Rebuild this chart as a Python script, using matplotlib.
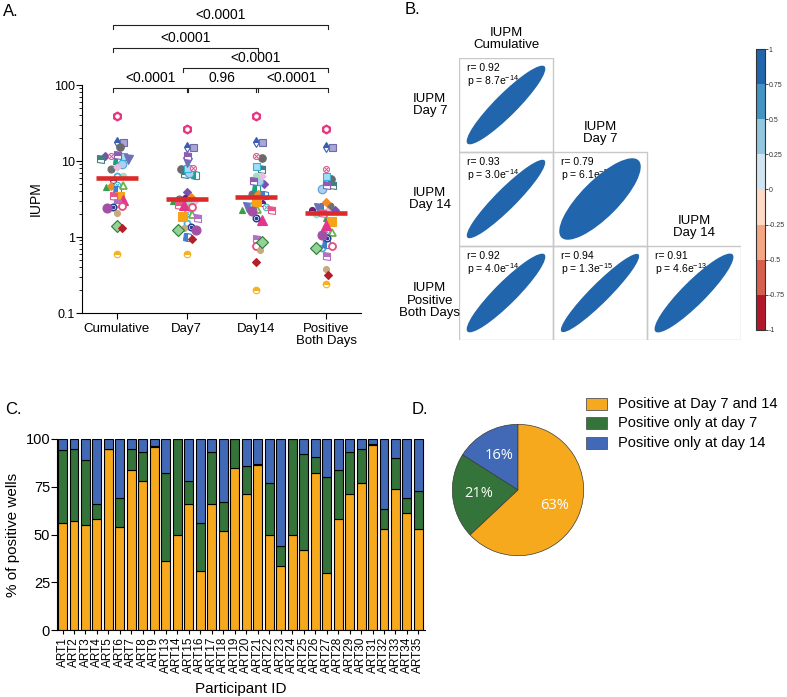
import numpy as np
import matplotlib
matplotlib.use('Agg')
import matplotlib.pyplot as plt
import matplotlib.colors as mcolors
from matplotlib.patches import Ellipse, Rectangle
import matplotlib.ticker as mticker

plt.rcParams['font.family'] = ['Liberation Sans', 'DejaVu Sans']
plt.rcParams['mathtext.fontset'] = 'custom'
plt.rcParams['mathtext.rm'] = 'Liberation Sans'
plt.rcParams['mathtext.it'] = 'Liberation Sans:italic'
plt.rcParams['axes.unicode_minus'] = True

# ---------------- DATA ----------------
# Panel A: IUPM per participant (same index = same participant/symbol)
groups_A = ['Cumulative', 'Day7', 'Day14', 'Positive\nBoth Days']
iupm_cum = [39.5, 17.9, 17.9, 15.4, 7.8, 11.6, 10.5, 10.0, 9.1, 11.7, 10.6, 11.6, 8.35, 6.4, 6.4, 5.6, 4.9,
            4.5, 4.7, 4.1, 4.8, 3.5, 3.5, 3.07, 12.0, 2.8, 2.56, 2.46, 2.38, 2.07, 1.41, 1.3, 0.6]
iupm_d7 = [26.1, 15.4, 15.4, 7.8, 3.2, 3.87, 6.7, 6.5, 7.0, 8.2, 9.8, 8.0, 3.0, 2.9, 1.54, 3.3, 2.07,
           3.0, 3.4, 1.0, 1.99, 1.87, 2.6, 2.63, 11.8, 1.79, 2.5, 1.37, 1.23, 1.33, 1.24, 0.94, 0.6]
iupm_d14 = [39.5, 17.9, 17.9, 11.0, 3.68, 5.0, 7.8, 4.37, 5.4, 8.6, 2.5, 11.6, 6.3, 6.4, 2.6, 2.83, 2.5,
            2.3, 3.7, 3.6, 2.35, 3.0, 2.26, 1.67, 5.5, 0.93, 0.77, 1.8, 2.17, 0.68, 0.87, 0.47, 0.2]
iupm_both = [26.1, 15.5, 15.5, 5.75, 2.55, 2.3, 4.8, 2.5, 4.27, 6.35, 2.4, 7.9, 2.2, 2.0, 0.72, 2.3, 1.2,
             1.76, 2.9, 0.8, 1.17, 1.62, 2.1, 1.44, 4.8, 0.56, 0.77, 0.96, 1.06, 0.375, 0.72, 0.32, 0.24]
medians_A = [5.9, 3.16, 3.33, 2.09]
comparisons = [(0, 1, '<0.0001'), (1, 2, '0.96'), (2, 3, '<0.0001'),
               (1, 3, '<0.0001'), (0, 2, '<0.0001'), (0, 3, '<0.0001')]

# Panel B: correlations (lower triangle)
row_labels_B = ['IUPM\nDay 7', 'IUPM\nDay 14', 'IUPM\nPositive\nBoth Days']
col_labels_B = ['IUPM\nCumulative', 'IUPM\nDay 7', 'IUPM\nDay 14']
r_vals = [[0.92], [0.93, 0.79], [0.92, 0.94, 0.91]]
p_mant = [['8.7'], ['3.0', '6.1'], ['4.0', '1.3', '4.6']]
p_exp = [['-14'], ['-14', '-5'], ['-14', '-15', '-13']]
cbar_ticks = [-1, -0.75, -0.5, -0.25, 0, 0.25, 0.5, 0.75, 1]

# Panel C: % of positive wells
participants = ['ART1', 'ART2', 'ART3', 'ART4', 'ART5', 'ART6', 'ART7', 'ART8', 'ART9', 'ART13', 'ART14',
                'ART15', 'ART16', 'ART17', 'ART18', 'ART19', 'ART20', 'ART21', 'ART22', 'ART23', 'ART24',
                'ART25', 'ART26', 'ART27', 'ART28', 'ART29', 'ART30', 'ART31', 'ART32', 'ART33', 'ART34', 'ART35']
pct_both = [56, 57, 55, 58, 95, 54, 84, 78, 96, 36, 50, 66, 31, 66, 52, 85, 71, 86.5, 50, 33.5, 50, 42, 82,
            30, 58, 71, 77, 97, 53, 74, 61.5, 53]
pct_d7only = [38, 38, 34, 8, 0, 15, 11, 15, 0.5, 46, 50, 12, 25, 27, 15, 15, 15, 0.5, 27, 10.5, 50, 50, 8.5,
              50, 26, 22, 18, 0.5, 10.5, 16, 7.5, 20]
pct_d14only = [6, 5, 11, 34, 5, 31, 5, 7, 3.5, 18, 0, 22, 44, 7, 33, 0, 14, 13, 23, 56, 0, 8, 9.5, 20, 16,
               7, 5, 2.5, 36.5, 10, 31, 27]

# Panel D: pie
pie_labels = ['Positive at Day 7 and 14', 'Positive only at day 7', 'Positive only at day 14']
pie_vals = [63, 21, 16]

# ---------------- STYLES ----------------
W, H = 787, 697
ORANGE, GREEN, BLUE = '#F7A91E', '#34733A', '#4169B5'
cat_colors = [ORANGE, GREEN, BLUE]

# marker, color, kind, size, edgecolor
styles = [
    ('h', '#e8337f', 'dotw', 9, None), ('d', '#3b5cb5', 'top', 6.5, None), ('s', '#a9a6d6', 'full', 7, '#6f6bab'),
    ('o', '#6a6a6a', 'full', 7.5, None), ('o', '#707070', 'full', 7, None), ('D', '#7a4fb2', 'full', 5.5, None),
    ('s', '#3f8080', 'top', 7, None), ('s', '#17a185', 'left', 7, None), ('o', '#a9d2f0', 'full', 8.5, '#5b9fd8'),
    ('s', '#a6dcf2', 'full', 7, '#35b0dc'), ('v', '#6c70b8', 'full', 9, None), ('o', '#d35a92', 'x', 6, None),
    ('D', '#e8bde0', 'full', 5, None), ('o', '#a8dcc0', 'full', 6.5, None), ('o', '#45b3dd', 'none', 6, None),
    ('o', '#6b1f70', 'top', 6, None), ('o', '#3fb5c9', 'x', 6.5, None), ('^', '#3a9e48', 'full', 6.5, None),
    ('D', '#f28a2a', 'full', 6, None), ('s', '#3f7fd0', 'left', 7, None), ('^', '#6fb24d', 'none', 7, None),
    ('s', '#f8a21a', 'full', 9, None), ('s', '#e95489', 'top', 7, None), ('^', '#e3358c', 'full', 10, None),
    ('s', '#8c5eb3', 'top', 7, None), ('s', '#b36fc2', 'top', 7, None), ('o', '#eb4b7c', 'none', 7, None),
    ('o', '#293d8f', 'dot', 6.5, None), ('o', '#a44fa6', 'full', 9, None), ('o', '#c9aa80', 'full', 6, None),
    ('D', '#93d194', 'full', 8, '#2c7a3a'), ('D', '#b51f2a', 'full', 5.5, None), ('o', '#f3b21f', 'top', 6.5, None),
]
MS_SCALE = 0.72


def R(l, t, r, b):
    return [l / W, 1 - b / H, (r - l) / W, (b - t) / H]


def swarm(vals, d=5.6, xpx=70.0, ypx=76.0):
    y = np.log10(np.asarray(vals)) * ypx
    xs = np.zeros(len(y))
    placed = []
    cand = [0.0] + [s * k for k in np.arange(0.5, 40, 0.5) for s in (1, -1)]
    for i in np.argsort(y)[::-1]:
        for c in cand:
            if all((c - px) ** 2 + (y[i] - py) ** 2 >= d * d for px, py in placed):
                break
        xs[i] = c
        placed.append((c, y[i]))
    return xs / xpx


def draw_pt(ax, x, y, st):
    m, c, kind, ms, ec = st
    ms = ms * MS_SCALE
    ec = ec or c
    kw = dict(marker=m, ms=ms, ls='none', mec=ec, mew=0.8, zorder=3)
    if kind == 'full':
        ax.plot([x], [y], mfc=c, **kw)
    elif kind in ('top', 'bottom', 'left', 'right'):
        ax.plot([x], [y], mfc=c, fillstyle=kind, markerfacecoloralt='white', **kw)
    elif kind == 'none':
        kw['mew'] = 1.3
        ax.plot([x], [y], mfc='white', **kw)
    elif kind == 'x':
        ax.plot([x], [y], mfc='white', **kw)
        ax.plot([x], [y], marker='x', ms=ms * 0.55, mew=0.7, color=c, ls='none', zorder=3)
    elif kind == 'dot':
        kw['mew'] = 1.1
        ax.plot([x], [y], mfc='white', **kw)
        ax.plot([x], [y], marker='o', ms=ms * 0.35, color=c, ls='none', zorder=3)
    elif kind == 'dotw':
        ax.plot([x], [y], mfc=c, **kw)
        ax.plot([x], [y], marker='o', ms=ms * 0.35, color='white', ls='none', zorder=3)


fig = plt.figure(figsize=(W / 100, H / 100), dpi=100)

# ---------------- PANEL A ----------------
axA = fig.add_axes(R(82, 85, 361, 313))
axA.set_yscale('log')
axA.set_ylim(0.1, 100)
axA.set_xlim(-0.5, 3.5)
for g, vals in enumerate([iupm_cum, iupm_d7, iupm_d14, iupm_both]):
    offs = swarm(vals)
    for i, v in enumerate(vals):
        draw_pt(axA, g + offs[i], v, styles[i])
    axA.hlines(medians_A[g], g - 0.3, g + 0.3, color='#da2a2a', lw=3.3, zorder=6)
axA.spines['top'].set_visible(False)
axA.spines['right'].set_visible(False)
axA.set_xticks(range(4))
axA.set_xticklabels(groups_A, fontsize=9.5, linespacing=1.0)
axA.set_yticks([0.1, 1, 10, 100])
axA.set_yticklabels(['0.1', '1', '10', '100'], fontsize=9)
axA.yaxis.set_minor_locator(mticker.LogLocator(subs=np.arange(2, 10)))
axA.yaxis.set_minor_formatter(mticker.NullFormatter())
axA.tick_params(axis='y', which='major', length=4, pad=1)
axA.tick_params(axis='y', which='minor', length=2)
axA.tick_params(axis='x', length=4, pad=3)
axA.set_ylabel('IUPM', fontsize=10, labelpad=8)
trA = axA.get_xaxis_transform()
level_px = {(0, 1): 88, (1, 2): 88, (2, 3): 88, (1, 3): 68, (0, 2): 48, (0, 3): 25}
tip = 4 / 228
for i, j, lab in comparisons:
    yv = (313 - level_px[(i, j)]) / 228
    x1, x2 = i - 0.05, j + 0.02
    if (i, j) in [(1, 2), (2, 3)]:
        x1 = i + 0.0
    axA.plot([x1, x1, x2, x2], [yv - tip, yv, yv, yv - tip], transform=trA, clip_on=False,
             color='#222222', lw=0.8)
    axA.text((x1 + x2) / 2, yv + 3 / 228, lab, transform=trA, ha='center', va='bottom', fontsize=10)
fig.text(3 / W, 1 - 12 / H, 'A.', fontsize=12, va='center')

# ---------------- PANEL B ----------------
axB = fig.add_axes(R(459, 58, 741, 340))
axB.set_xlim(0, 3)
axB.set_ylim(3, 0)
axB.axis('off')
ell_color = '#2166AC'
for i in range(3):
    for j in range(i + 1):
        r = r_vals[i][j]
        axB.add_patch(Rectangle((j, i), 1, 1, fill=False, ec='#c8c8c8', lw=1.0, zorder=1))
        w = 1.16
        h = w * np.sqrt((1 - r) / (1 + r))
        axB.add_patch(Ellipse((j + 0.5, i + 0.5), w, h, angle=-45, fc=ell_color, ec='none', zorder=3))
        axB.text(j + 0.085, i + 0.11, 'r= %.2f' % r, fontsize=7.5, va='center', ha='left', zorder=2)
        axB.text(j + 0.085, i + 0.25, 'p = %se$^{%s}$' % (p_mant[i][j], p_exp[i][j]), fontsize=7.5,
                 va='center', ha='left', zorder=2)
for i, lab in enumerate(row_labels_B):
    yoff = 0.08 if i == 2 else 0.0
    axB.text(-0.31, i + 0.5 + yoff, lab, ha='center', va='center', fontsize=9.5, linespacing=1.05,
             clip_on=False)
for j, lab in enumerate(col_labels_B):
    axB.text(j + 0.5, j - 0.07, lab, ha='center', va='bottom', fontsize=9.5, linespacing=1.05, clip_on=False)
fig.text(405 / W, 1 - 10 / H, 'B.', fontsize=12, va='center')

axCB = fig.add_axes(R(756, 49, 765, 330))
cb_colors = ['#b2182b', '#d6604d', '#f4a582', '#fddbc7', '#d1e5f0', '#92c5de', '#4393c3', '#2166ac']
cmap = mcolors.ListedColormap(cb_colors)
norm = mcolors.BoundaryNorm(np.linspace(-1, 1, 9), cmap.N)
cb = fig.colorbar(matplotlib.cm.ScalarMappable(norm=norm, cmap=cmap), cax=axCB, ticks=cbar_ticks)
cb.ax.set_yticklabels(['%g' % t for t in cbar_ticks])
cb.ax.tick_params(labelsize=5, length=2, width=0.6, colors='#333333', pad=0.5)
cb.outline.set_linewidth(0.8)
cb.outline.set_edgecolor('#333333')

# ---------------- PANEL C ----------------
axC = fig.add_axes(R(57, 439, 425, 630))
x = np.arange(len(participants))
b1 = np.array(pct_both)
b2 = np.array(pct_d7only)
b3 = np.array(pct_d14only)
bw = 0.78
axC.bar(x, b1, bw, color=ORANGE, edgecolor='black', lw=0.8)
axC.bar(x, b2, bw, bottom=b1, color=GREEN, edgecolor='black', lw=0.8)
axC.bar(x, b3, bw, bottom=b1 + b2, color=BLUE, edgecolor='black', lw=0.8)
axC.set_xlim(-0.48, 31.57)
axC.set_ylim(0, 100)
axC.spines['top'].set_visible(False)
axC.spines['right'].set_visible(False)
axC.set_yticks([0, 25, 50, 75, 100])
axC.tick_params(axis='y', labelsize=10.5, length=4, pad=1)
axC.set_xticks(x)
axC.set_xticklabels(participants, rotation=90, fontsize=8.5)
axC.tick_params(axis='x', length=3, pad=2)
axC.set_ylabel('% of positive wells', fontsize=11, labelpad=4)
axC.set_xlabel('Participant ID', fontsize=11, labelpad=6)
fig.text(5 / W, 1 - 410 / H, 'C.', fontsize=12, va='center')

# ---------------- PANEL D ----------------
axD = fig.add_axes(R(451, 422, 585, 558))
wedges, texts, autotexts = axD.pie(pie_vals[::-1], colors=cat_colors[::-1], startangle=90,
                                   counterclock=True, autopct='%d%%', pctdistance=0.6,
                                   wedgeprops=dict(edgecolor='#3a3a3a', linewidth=0.5),
                                   textprops=dict(color='white', fontsize=10.5, family='Open Sans'))
axD.set_xlim(-1.02, 1.02)
axD.set_ylim(-1.02, 1.02)
axD.set_aspect('equal')
fig.text(412 / W, 1 - 410 / H, 'D.', fontsize=12, va='center')
for k, (lab, col) in enumerate(zip(pie_labels, cat_colors)):
    yc = 404 + 19.3 * k
    fig.patches.append(Rectangle((586 / W, 1 - (yc + 6) / H), 21 / W, 12 / H, transform=fig.transFigure,
                                 fc=col, ec='#555555', lw=0.6))
    fig.text(618 / W, 1 - yc / H, lab, va='center', ha='left', fontsize=10.5)

fig.savefig('out.png', dpi=100)
